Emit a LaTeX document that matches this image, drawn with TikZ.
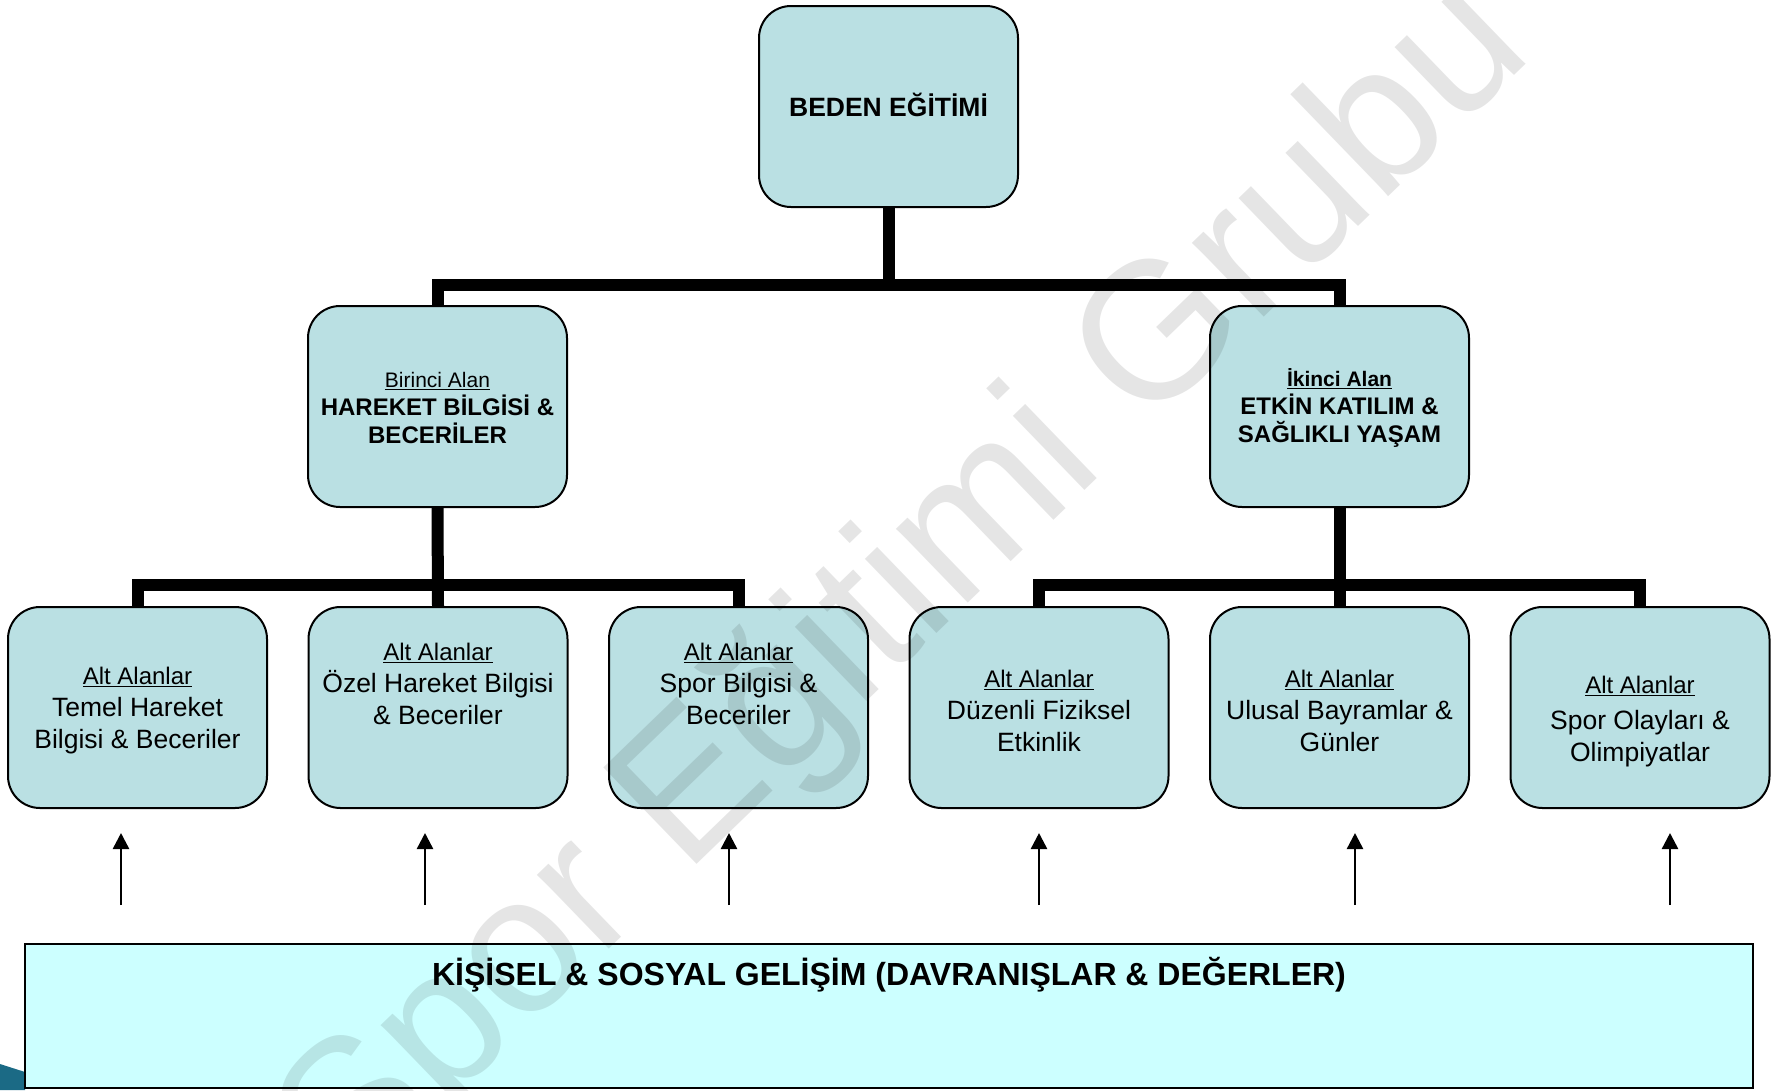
\documentclass[tikz,border=0pt]{standalone}
\usepackage{fontspec}
\setmainfont{Liberation Sans}
\usetikzlibrary{arrows.meta}
\definecolor{boxfill}{HTML}{BAE0E3}
\definecolor{basefill}{HTML}{CCFFFF}
\definecolor{cornerteal}{HTML}{1B6A85}
\begin{document}
\begin{tikzpicture}[x=1pt,y=-1pt,
  box/.style={draw=black,line width=2pt,fill=boxfill,rounded corners=32pt,minimum width=259pt,minimum height=201pt,inner sep=0pt},
  conn/.style={line width=12pt,line join=miter},
  uparrow/.style={line width=2.5pt,-{Triangle[width=16pt,length=16pt]}},
  subtext/.style={align=center,font=\fontsize{26.5}{32}\selectfont},
  areatext/.style={align=center,font=\bfseries\fontsize{24}{28}\selectfont},
  wmark/.style={rotate=44,text=black,opacity=0.1,font=\fontsize{195}{195}\selectfont,inner sep=0pt}
]
\useasboundingbox (0,0) rectangle (1785,1090);
% corner decoration
\fill[cornerteal] (0,1064) -- (25,1072) -- (25,1090) -- (0,1090) -- cycle;
% junction coordinates
\coordinate (j1) at (888.5,285);
\coordinate (j2a) at (437.5,585);
\coordinate (j2b) at (1339.5,585);
% boxes
\node[box] (main) at (888.5,106.5) {\raisebox{3pt}{\bfseries\fontsize{26.5}{30}\selectfont BEDEN EĞİTİMİ}};
\node[box] (l2a) at (437.5,406.5) {};
\node[box] (l2b) at (1339.5,406.5) {};
\node[box] (sa1) at (137.5,707.5) {};
\node[box] (sa2) at (438,707.5) {};
\node[box] (sa3) at (738.5,707.5) {};
\node[box] (sa4) at (1039,707.5) {};
\node[box] (sa5) at (1339.5,707.5) {};
\node[box] (sa6) at (1640,707.5) {};
% connectors
\draw[conn] (main.south) -- (j1);
\draw[conn] (l2a.north) |- (j1) -| (l2b.north);
\draw[conn] (sa1.north) |- (j2a) -| (sa3.north);
\draw[conn] (l2a.south) -- (sa2.north);
\draw[conn] (sa4.north) |- (j2b) -| (sa6.north);
\draw[conn] (l2b.south) -- (sa5.north);
% area texts
\node[areatext] (l2atxt) at (437.5,408) {{\mdseries\fontsize{21}{28}\selectfont\underline{Birinci Alan}}\\HAREKET BİLGİSİ \&\\BECERİLER};
\node[areatext] (l2btxt) at (1339.5,408) {{\fontsize{21}{28}\selectfont\underline{İkinci Alan}}\\ETKİN KATILIM \&\\SAĞLIKLI YAŞAM};
% sub-area texts
\node[subtext] (la1) at (137.5,711) {{\fontsize{24}{32}\selectfont\underline{Alt Alanlar}}\\Temel Hareket\\Bilgisi \& Beceriler};
\node[subtext] (la2) at (438,684) {{\fontsize{24}{32}\selectfont\underline{Alt Alanlar}}\\Özel Hareket Bilgisi\\\& Beceriler};
\node[subtext] (la3) at (738.5,684) {{\fontsize{24}{32}\selectfont\underline{Alt Alanlar}}\\Spor Bilgisi \&\\Beceriler};
\node[subtext] (la4) at (1039,711) {{\fontsize{24}{32}\selectfont\underline{Alt Alanlar}}\\Düzenli Fiziksel\\Etkinlik};
\node[subtext] (la5) at (1339.5,711) {{\fontsize{24}{32}\selectfont\underline{Alt Alanlar}}\\Ulusal Bayramlar \&\\Günler};
\node[subtext] (la6) at (1640,722) {{\fontsize{24}{32}\selectfont\underline{Alt Alanlar}}\\[4pt]Spor Olayları \&\\Olimpiyatlar};
% arrows
\foreach \i/\x in {1/121,2/425,3/729,4/1039,5/1355,6/1670}{
  \coordinate (as\i) at (\x,905);
  \coordinate (ae\i) at (\x,833);
  \draw[uparrow] (as\i) -- (ae\i);
}
% base box
\node[draw=black,line width=2.5pt,fill=basefill,minimum width=1728pt,minimum height=144pt,inner sep=0pt] (base) at (889,1016) {};
\node[font=\bfseries\fontsize{32}{36}\selectfont] (basetxt) at (889,975) {KİŞİSEL \& SOSYAL GELİŞİM (DAVRANIŞLAR \& DEĞERLER)};
% watermark
\node[wmark] (wm) at (907,590) {Spor Eğitimi Grubu};
\end{tikzpicture}
\end{document}
